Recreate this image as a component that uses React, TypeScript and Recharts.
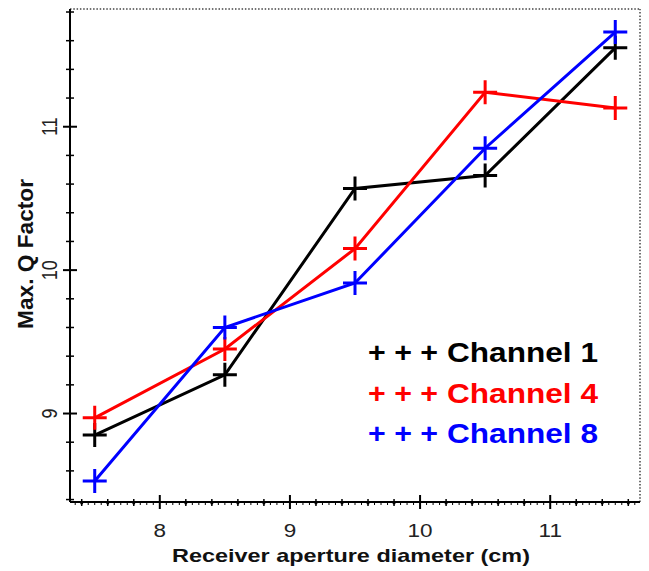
import { Line, LineChart, ReferenceLine, XAxis, YAxis } from "recharts";

const diameters = [7.5, 8.5, 9.5, 10.5, 11.5];
const channel1 = [8.85, 9.27, 10.57, 10.66, 11.55];
const channel4 = [8.97, 9.45, 10.15, 11.24, 11.13];
const channel8 = [8.53, 9.6, 9.91, 10.85, 11.66];

const xLabels = [8, 9, 10, 11];
const yLabels = [9, 10, 11];
const xDomain = [7.31, 11.69];
const yDomain = [8.383, 11.821];

const series = [
  { key: "ch1", name: "Channel 1", color: "#000000", values: channel1 },
  { key: "ch4", name: "Channel 4", color: "#ff0000", values: channel4 },
  { key: "ch8", name: "Channel 8", color: "#0000ff", values: channel8 },
];

const data = diameters.map((d, i) => ({
  d,
  ch1: channel1[i],
  ch4: channel4[i],
  ch8: channel8[i],
}));

// small ticks every 0.05 on x, every 0.2 on y
const xTicks = Array.from({ length: 87 }, (_, i) => +(7.35 + i * 0.05).toFixed(2));
const yTicks = Array.from({ length: 18 }, (_, i) => +(8.4 + i * 0.2).toFixed(1));

const FONT = "'Liberation Sans', Arial, sans-serif";
const near = (v: number, step: number) => Math.abs(v / step - Math.round(v / step)) < 1e-6;

function XTick({ x, y, payload }: any) {
  const v = payload.value;
  if (xLabels.includes(v)) {
    return (
      <g>
        <line x1={x} x2={x} y1={y - 7} y2={y + 7} stroke="#000" strokeWidth={2} />
        <g transform={`translate(${x},${y + 35}) scale(1.25,1)`}>
          <text textAnchor="middle" fontFamily={FONT} fontSize={18} fill="#222">
            {v}
          </text>
        </g>
      </g>
    );
  }
  if (near(v, 0.2)) {
    return (
      <g>
        <line x1={x} x2={x} y1={y - 3} y2={y + 4} stroke="#000" strokeWidth={1.5} />
        <circle cx={x} cy={y + 1} r={1.5} fill="#000" />
      </g>
    );
  }
  return <line x1={x} x2={x} y1={y} y2={y + 3} stroke="#000" strokeWidth={1} />;
}

function YTick({ x, y, payload }: any) {
  const v = payload.value;
  if (yLabels.includes(v)) {
    return (
      <g>
        <line x1={x - 7} x2={x + 7} y1={y} y2={y} stroke="#000" strokeWidth={2} />
        <g transform={`translate(${x - 13},${y}) scale(1.25,1) rotate(-90)`}>
          <text textAnchor="middle" fontFamily={FONT} fontSize={18} fill="#222">
            {v}
          </text>
        </g>
      </g>
    );
  }
  return <line x1={x - 4} x2={x + 4} y1={y} y2={y} stroke="#000" strokeWidth={1.5} />;
}

const plusDot = (color: string) => (props: any) => {
  const { cx, cy, index } = props;
  return (
    <path
      key={index}
      d={`M${cx - 12},${cy}h24M${cx},${cy - 12}v24`}
      stroke={color}
      strokeWidth={3}
      fill="none"
    />
  );
};

export default function App() {
  return (
    <div style={{ position: "absolute", left: 0, top: 0, background: "#fff" }}>
      <LineChart
        width={649}
        height={571}
        data={data}
        margin={{ top: 9, right: 9, left: 40, bottom: 39 }}
      >
        <XAxis
          dataKey="d"
          type="number"
          domain={xDomain}
          ticks={xTicks}
          interval={0}
          height={30}
          tickSize={0}
          tickMargin={0}
          tickLine={false}
          tick={<XTick />}
          axisLine={{ stroke: "#000", strokeWidth: 2 }}
          allowDataOverflow
        />
        <YAxis
          type="number"
          domain={yDomain}
          ticks={yTicks}
          interval={0}
          width={30}
          tickSize={0}
          tickMargin={0}
          tickLine={false}
          tick={<YTick />}
          axisLine={{ stroke: "#000", strokeWidth: 2 }}
          allowDataOverflow
        />
        <ReferenceLine y={yDomain[1]} stroke="#444" strokeWidth={1.5} strokeDasharray="1.5 1.8" />
        <ReferenceLine x={xDomain[1]} stroke="#444" strokeWidth={1.5} strokeDasharray="1.5 1.8" />
        {series.map((s) => (
          <Line
            key={s.key}
            dataKey={s.key}
            name={s.name}
            type="linear"
            stroke={s.color}
            strokeWidth={3}
            dot={plusDot(s.color)}
            activeDot={false}
            isAnimationActive={false}
          />
        ))}
        <g>
          <g transform="translate(33,254) scale(1.25,1) rotate(-90)">
            <text
              textAnchor="middle"
              fontFamily={FONT}
              fontSize={18}
              fontWeight="bold"
              fill="#111"
              textLength={150}
              lengthAdjust="spacingAndGlyphs"
            >
              Max. Q Factor
            </text>
          </g>
          <text
            x={172}
            y={562}
            fontFamily={FONT}
            fontSize={18.5}
            fontWeight="bold"
            fill="#111"
            textLength={358}
            lengthAdjust="spacingAndGlyphs"
          >
            Receiver aperture diameter (cm)
          </text>
          {series.map((s, i) => (
            <g key={s.key} fontFamily={FONT} fontWeight="bold" fontSize={27} fill={s.color}>
              <text x={368} y={362 + i * 40.5} textLength={70} lengthAdjust="spacingAndGlyphs">
                + + +
              </text>
              <text x={447} y={362 + i * 40.5} textLength={151} lengthAdjust="spacingAndGlyphs">
                {s.name}
              </text>
            </g>
          ))}
        </g>
      </LineChart>
    </div>
  );
}
